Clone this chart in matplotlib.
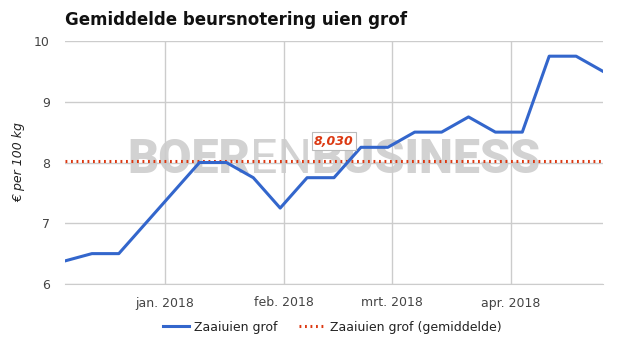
import matplotlib.pyplot as plt
import numpy as np
import datetime as dt

# data
start = dt.date(2017, 12, 6)
dates = [start + dt.timedelta(days=7 * i) for i in range(21)]
prices = [6.38, 6.5, 6.5, 7.0, 7.5, 8.0, 8.0, 7.75, 7.25, 7.75, 7.75,
          8.25, 8.25, 8.5, 8.5, 8.75, 8.5, 8.5, 9.75, 9.75, 9.5]
average = 8.03
month_ticks = [dt.date(2018, 1, 1), dt.date(2018, 2, 1), dt.date(2018, 3, 1), dt.date(2018, 4, 1)]
month_labels = ['jan. 2018', 'feb. 2018', 'mrt. 2018', 'apr. 2018']

blue = '#3366CC'
red = '#DC3912'
grid_c = '#CCCCCC'
text_c = '#222222'
wm_c = '#D2D2D2'

W, H = 625, 355
fig = plt.figure(figsize=(6.25, 3.55), dpi=100)
ax = fig.add_axes([65 / W, 1 - 284 / H, 538 / W, 243 / H])

# watermark, pieced together left to right, sized to span ~413 px
fig.canvas.draw()
r = fig.canvas.get_renderer()
parts = [('BOER', 'black'), ('EN', 'normal'), ('BUSINESS', 'black')]
size = 30
probe = [fig.text(0, 0, w, family='Roboto', fontweight=wt, fontsize=size) for w, wt in parts]
total = sum(t.get_window_extent(renderer=r).width for t in probe)
for t in probe:
    t.remove()
size = size * 413 / total
x0 = 127 / W
ywm = 1 - 160 / H
for word, weight in parts:
    t = ax.text(x0, ywm, word, family='Roboto', fontweight=weight, fontsize=size,
                color=wm_c, ha='left', va='center', transform=fig.transFigure, zorder=1)
    bb = t.get_window_extent(renderer=r)
    x0 = bb.x1 / W

ax.plot(dates, prices, color=blue, lw=2.2, label='Zaaiuien grof', zorder=4)
ax.plot([dates[0], dates[-1]], [average, average], color=red, lw=2.2,
        linestyle=(0, (0.6, 1.2)), label='Zaaiuien grof (gemiddelde)', zorder=3)

ax.annotate('8,030', xy=(dates[10], average), xytext=(0, 14), textcoords='offset points',
            ha='center', va='center', color=red, fontsize=9, fontweight='bold',
            fontstyle='italic',
            bbox=dict(boxstyle='square,pad=0.2', fc='white', ec='#BBBBBB', lw=0.8),
            zorder=6)

ax.set_xlim(dates[0], dates[-1])
ax.set_ylim(6, 10)
ax.set_yticks([6, 7, 8, 9, 10])
ax.set_xticks(month_ticks)
ax.set_xticklabels(month_labels)
ax.grid(True, color=grid_c, lw=1, zorder=0)
ax.tick_params(length=0, labelsize=9, colors='#444444')
ax.tick_params(axis='x', pad=9)
ax.tick_params(axis='y', pad=11)
for s in ['top', 'right', 'left']:
    ax.spines[s].set_visible(False)
ax.spines['bottom'].set_color(grid_c)

ax.set_ylabel('€ per 100 kg', fontsize=9, fontstyle='italic', color=text_c)
ax.yaxis.set_label_coords(-40 / 538, 0.5)

fig.text(65 / W, 1 - 20 / H, 'Gemiddelde beursnotering uien grof', fontsize=12,
         fontweight='bold', color='#111111', ha='left', va='center')

fig.legend(loc='center', bbox_to_anchor=(0.532, 1 - 327 / H), ncol=2, frameon=False,
           fontsize=9, handlelength=2.1, handletextpad=0.4, columnspacing=1.7,
           labelcolor=text_c)

fig.savefig('out.png', dpi=100)
